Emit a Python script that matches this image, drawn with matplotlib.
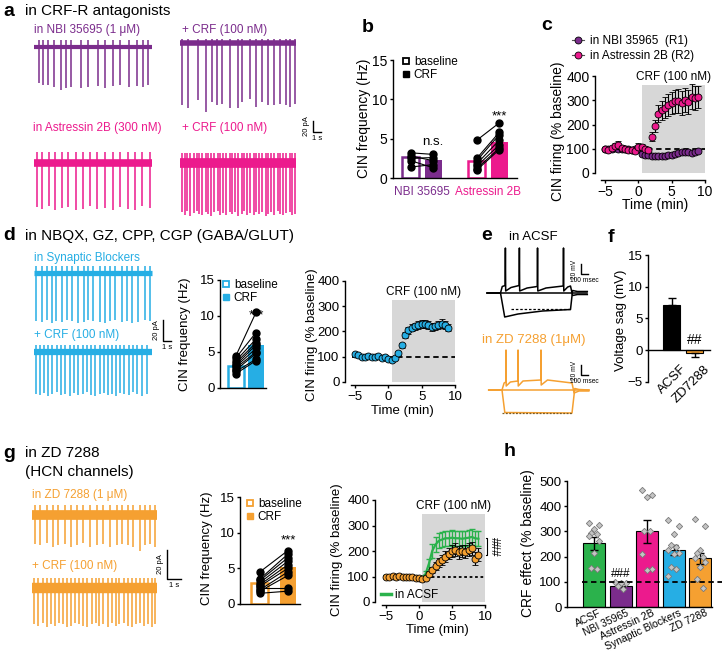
import matplotlib.pyplot as plt
from matplotlib.lines import Line2D
from matplotlib.transforms import ScaledTranslation

plt.rcParams['font.family'] = ['Liberation Sans', 'DejaVu Sans']
plt.rcParams['axes.linewidth'] = 1.0
plt.rcParams['xtick.major.width'] = 1.0
plt.rcParams['ytick.major.width'] = 1.0
plt.rcParams['xtick.major.size'] = 2.5
plt.rcParams['ytick.major.size'] = 2.5
plt.rcParams['xtick.major.pad'] = 1.5
plt.rcParams['ytick.major.pad'] = 1.5

W, H = 722, 652
PURPLE = '#7b2c8c'
PINK = '#ec1a8d'
BLUE = '#26aee4'
ORANGE = '#f5a031'
GREEN = '#2bb24c'
SHADE = '#d7d7d7'

# ---------------- data ----------------
# a: cell-attached traces, spike times (s) and amplitudes (pA)
a_nbi_base_t = [0.6, 1.1, 1.8, 2.5, 3.4, 4.0, 4.6, 5.9, 6.8, 8.0, 8.9, 9.9, 10.8, 11.9, 12.9, 13.6, 14.2]
a_nbi_base_amp = [66, 69, 69, 72, 78, 75, 73, 75, 73, 71, 74, 71, 69, 73, 70, 73, 69]
a_nbi_crf_t = [0.3, 1.0, 2.3, 3.3, 4.0, 4.6, 5.3, 6.3, 7.2, 7.8, 8.8, 9.5, 10.2, 11.0, 11.8, 12.5, 13.3, 13.8, 14.4]
a_nbi_crf_amp = [113, 119, 104, 125, 107, 113, 110, 119, 119, 107, 101, 116, 107, 113, 113, 110, 113, 116, 110]
a_ast_base_t = [0.4, 1.0, 1.9, 2.6, 3.5, 4.3, 5.3, 6.1, 7.0, 7.9, 8.9, 9.9, 10.8, 11.8, 12.6, 13.5, 14.5]
a_ast_base_amp = [80, 84, 78, 86, 82, 80, 85, 83, 79, 84, 81, 86, 80, 83, 85, 79, 82]
a_ast_crf_t = [0.2, 0.6, 0.9, 1.3, 1.7, 2.1, 2.4, 2.8, 3.2, 3.5, 3.9, 4.3, 4.7, 5.0, 5.4, 5.8, 6.2,
               6.5, 6.9, 7.3, 7.7, 8.0, 8.4, 8.8, 9.2, 9.5, 9.9, 10.3, 10.7, 11.0, 11.4, 11.8,
               12.2, 12.5, 12.9, 13.3, 13.7, 14.0, 14.4]
a_ast_crf_amp = [90, 94, 88, 96, 91, 87, 93, 95, 89, 92, 96, 90, 88, 94, 91, 95, 89, 93, 90,
                 96, 92, 88, 94, 91, 95, 90, 93, 89, 96, 92, 90, 94, 88, 93, 95, 91, 89, 94, 92]

# b: CIN frequency (Hz)
b_groups = ['NBI 35695', 'Astressin 2B']
b_base_mean = [2.7, 2.2]
b_crf_mean = [2.3, 4.6]
b_nbi_base = [3.2, 2.8, 2.5, 2.2, 1.4]
b_nbi_crf = [3.0, 2.2, 2.6, 1.3, 1.7]
b_ast_base = [4.8, 2.5, 2.2, 1.8, 1.5, 1.2, 1.0]
b_ast_crf = [7.0, 5.8, 5.5, 4.8, 4.2, 3.8, 3.6]

# time courses (% baseline)
minutes = [-5, -4.5, -4, -3.5, -3, -2.5, -2, -1.5, -1, -0.5, 0, 0.5, 1, 1.5, 2, 2.5, 3,
           3.5, 4, 4.5, 5, 5.5, 6, 6.5, 7, 7.5, 8, 8.5, 9]
c_nbi = [100, 98, 100, 102, 100, 98, 97, 100, 95, 98, 100, 80, 76, 74, 72, 70, 70, 70, 72,
         74, 76, 80, 84, 86, 88, 86, 84, 85, 90]
c_nbi_err = [5, 5, 5, 5, 5, 5, 5, 5, 5, 5, 6, 6, 6, 6, 6, 6, 6, 6, 6, 6, 6, 6, 6, 6, 6, 6, 6, 6, 6]
c_ast = [100, 96, 102, 112, 116, 104, 100, 95, 93, 92, 108, 106, 100, 96, 150, 195, 245, 258,
         270, 280, 288, 295, 298, 290, 300, 292, 315, 308, 312]
c_ast_err = [8, 8, 8, 12, 15, 10, 8, 8, 8, 8, 15, 12, 10, 10, 20, 25, 35, 40, 45, 45, 45, 48,
             50, 50, 50, 50, 50, 50, 45]

# d
d_base_t = [0.3, 0.95, 1.6, 2.2, 2.8, 3.5, 4.1, 4.7, 5.5, 6.2, 6.8, 7.4, 8.2, 8.9, 9.5, 10.1,
            11.0, 11.6, 12.3, 13.0, 13.9, 14.5]
d_base_amp = [46, 47, 45, 48, 46, 47, 45, 46, 48, 47, 45, 46, 47, 48, 46, 45, 47, 46, 48, 47, 45, 46]
d_crf_t = [0.2, 0.75, 1.3, 1.8, 2.3, 2.9, 3.4, 3.9, 4.5, 5.0, 5.5, 6.1, 6.6, 7.1, 7.6, 8.2, 8.7,
           9.2, 9.7, 10.3, 10.8, 11.3, 11.9, 12.4, 12.9, 13.5, 14.1]
d_crf_amp = [40, 41, 39, 42, 40, 38, 41, 40, 42, 39, 41, 40, 38, 41, 42, 40, 39, 41, 40, 42, 39,
             40, 41, 38, 40, 42, 40]
d_base_mean = 3.0
d_crf_mean = 6.0
d_base = [4.5, 4.2, 3.8, 3.5, 3.2, 3.0, 2.8, 2.5, 2.3, 2.0]
d_crf = [10.5, 7.7, 6.8, 6.3, 6.0, 5.5, 5.0, 4.8, 4.0, 3.8]
d_tc = [110, 105, 100, 100, 102, 100, 98, 102, 95, 100, 92, 88, 97, 115, 145, 185, 205, 215,
        220, 225, 228, 230, 225, 218, 220, 225, 230, 225, 215]
d_tc_err = [6, 5, 5, 5, 5, 5, 5, 5, 5, 5, 5, 5, 6, 8, 10, 12, 14, 15, 15, 16, 16, 16, 16, 15,
            15, 16, 18, 16, 15]

# e: current-clamp sweeps, time (ms) and membrane potential relative to rest (mV)
acsf_dep_t = [-190, 0, 25, 66, 70, 74, 150, 266, 270, 274, 380, 525, 529, 533, 650, 896, 900,
              904, 960, 1000, 1030, 1100, 1240]
acsf_dep_v = [0, 0, 13, 15, 90, 4, 11, 15, 90, 4, 10, 13, 90, 4, 10, 14, 90, 4, 12, 14, -5, -3, -3]
acsf_hyp_t = [-190, 0, 60, 250, 600, 1000, 1030, 1100, 1240]
acsf_hyp_v = [0, 0, -48, -42, -36, -33, 5, 3, 3]
acsf_ss = -32
zd_dep_t = [-190, 0, 30, 55, 57, 60, 120, 227, 229, 232, 300, 555, 557, 560, 650, 1000, 1030, 1100, 1240]
zd_dep_v = [0, 0, 14, 16, 80, 8, 16, 18, 80, 8, 18, 20, 80, 10, 20, 14, -6, -2, -2]
zd_hyp_t = [-190, 0, 40, 1000, 1040, 1100, 1240]
zd_hyp_v = [0, 0, -45, -46, 3, 1, 0]
zd_ss = -46

# f: voltage sag (mV)
f_groups = ['ACSF', 'ZD7288']
f_mean = [7.2, -0.5]
f_err = [1.1, 0.6]

# g
g_base_t = [0.2, 0.6, 1.05, 1.48, 1.88, 2.36, 2.79, 3.19, 3.66, 4.14, 4.62, 5.09, 5.57, 6.05,
            6.41, 6.88, 7.24, 7.71, 8.07, 8.43, 8.79]
g_base_amp = [20, 21, 19, 22, 21, 20, 22, 21, 19, 22, 21, 20, 22, 21, 20, 21, 22, 25, 21, 20, 22]
g_crf_t = [0.15, 0.45, 0.75, 1.05, 1.35, 1.65, 1.9, 2.2, 2.5, 2.8, 3.1, 3.35, 3.65, 3.95, 4.25,
           4.55, 4.8, 5.1, 5.4, 5.7, 6.0, 6.25, 6.55, 6.85, 7.15, 7.45, 7.7, 8.0, 8.3, 8.55, 8.8]
g_crf_amp = [25, 26, 24, 27, 25, 26, 24, 25, 27, 26, 24, 25, 26, 27, 25, 24, 26, 25, 27, 24, 26,
             25, 24, 26, 27, 25, 24, 26, 25, 27, 25]
g_base_mean = 2.9
g_crf_mean = 5.2
g_base = [4.5, 3.5, 3.3, 3.0, 2.7, 2.5, 2.0, 1.8, 2.2, 1.5]
g_crf = [7.5, 7.0, 6.5, 6.0, 5.5, 5.0, 4.5, 4.0, 2.2, 1.8]
g_acsf = [100, 98, 102, 100, 101, 99, 98, 100, 97, 96, 95, 98, 110, 150, 200, 225, 240, 245,
          250, 250, 252, 250, 250, 248, 250, 252, 255, 250, 248]
g_acsf_err = [4, 4, 4, 4, 4, 4, 4, 4, 4, 4, 4, 5, 10, 20, 28, 30, 30, 30, 30, 30, 30, 30, 30,
              30, 30, 30, 30, 30, 30]
g_zd = [100, 100, 102, 100, 103, 100, 98, 100, 97, 95, 93, 92, 95, 110, 125, 140, 155, 165,
        178, 190, 200, 205, 195, 200, 198, 205, 210, 170, 185]
g_zd_err = [5, 5, 5, 5, 5, 5, 5, 5, 5, 5, 5, 5, 6, 10, 12, 15, 18, 20, 22, 22, 25, 25, 25, 25,
            25, 25, 25, 25, 25]

# h: CRF effect (% baseline)
h_groups = ['ACSF', 'NBI 35965', 'Astressin 2B', 'Synaptic Blockers', 'ZD 7288']
h_colors = [GREEN, PURPLE, PINK, BLUE, ORANGE]
h_mean = [252, 85, 300, 225, 193]
h_err = [25, 6, 47, 20, 22]
h_points = [
    [335, 325, 310, 295, 290, 280, 260, 215, 155, 150],
    [100, 95, 95, 85, 70],
    [465, 445, 435, 300, 300, 210, 150, 145],
    [345, 320, 290, 245, 240, 225, 215, 210, 160, 150, 125],
    [350, 320, 225, 215, 200, 195, 180, 160, 110, 75],
]

# ---------------- helpers ----------------
fig = plt.figure(figsize=(W / 100, H / 100), dpi=100)


def box(l, t, r, b):
    return [l / W, 1 - b / H, (r - l) / W, (b - t) / H]


def label(x, y, s, size=10, **kw):
    fig.text(x / W, 1 - y / H, s, fontsize=size, va='center', **kw)


def letter(x, y, s):
    label(x, y, s, size=14, fontweight='bold')


def trace_ax(l, base, pps, ppa, w, up=20, down=75, t0=0):
    ax = fig.add_axes(box(l, base - up, l + w, base + down))
    ax.set_xlim(t0, t0 + w / pps)
    ax.set_ylim(-down / ppa, up / ppa)
    ax.axis('off')
    return ax


def spikes(ax, dur, times, amps, up, color, band):
    ax.plot([0, dur], [0, 0], color=color, lw=band, solid_capstyle='butt')
    ax.vlines(times, [-a for a in amps], up, color=color, lw=1.1)


def scalebar(cx, cy, sx, sy, pps, ppa, xl, yl, fs=5.5):
    ax = fig.add_axes(box(cx - 2, cy - sy * ppa - 2, cx + sx * pps + 2, cy + 2))
    ax.set_xlim(-2 / pps, sx + 2 / pps)
    ax.set_ylim(-2 / ppa, sy + 2 / ppa)
    ax.axis('off')
    ax.plot([0, 0, sx], [sy, 0, 0], color='k', lw=1, clip_on=False)
    ax.text(-3 / pps, sy / 2, yl, rotation=90, ha='right', va='center', fontsize=fs)
    ax.text(sx / 2, -3 / ppa, xl, ha='center', va='top', fontsize=fs)


def style(ax, left_out=0, bottom_out=0):
    for s in ('top', 'right'):
        ax.spines[s].set_visible(False)
    ax.spines['left'].set_position(('outward', left_out))
    ax.spines['bottom'].set_position(('outward', bottom_out))


def paired(ax, x, bmean, cmean, bvals, cvals, color, off, width):
    ax.bar(x - off, bmean, width, facecolor='white', edgecolor=color, lw=1.8, zorder=1)
    ax.bar(x + off, cmean, width, color=color, zorder=1)
    for b, c in zip(bvals, cvals):
        ax.plot([x - off, x + off], [b, c], color='k', lw=0.8, zorder=2)
    ax.plot([x - off] * len(bvals), bvals, 'o', color='k', ms=5, zorder=3)
    ax.plot([x + off] * len(cvals), cvals, 'o', color='k', ms=5, zorder=3)


def bar_legend(ax, color, x, y, fs=8.5):
    hs = [Line2D([], [], marker='s', ls='', mfc='white', mec=color, mew=1.3, ms=5),
          Line2D([], [], marker='s', ls='', mfc=color, mec=color, ms=5)]
    ax.legend(hs, ['baseline', 'CRF'], loc='upper left', bbox_to_anchor=(x / W, 1 - y / H),
              bbox_transform=fig.transFigure, frameon=False, fontsize=fs, handlelength=0.7,
              handletextpad=0.3, labelspacing=0.1, borderpad=0, borderaxespad=0)


def timecourse(ax, left_out, bottom_out, shade_top, fs=9.5):
    style(ax, left_out, bottom_out)
    ax.set_xlim(-6, 10)
    ax.set_ylim(0, 400)
    ax.set_xticks([-5, 0, 5, 10])
    ax.set_yticks([0, 100, 200, 300, 400])
    ax.spines['bottom'].set_bounds(-5.6, 10)
    ax.tick_params(labelsize=fs)
    ax.fill_between([0.5, 10], 0, shade_top, color=SHADE, lw=0, zorder=0)
    ax.text(5.25, shade_top + 8, 'CRF (100 nM)', ha='center', va='bottom', fontsize=8.5)
    ax.axhline(100, xmin=0.03, color='k', ls='--', lw=1.3, dashes=(3, 2), zorder=1)


# ---------------- panel a ----------------
letter(3, 11, 'a')
label(25, 11, 'in CRF-R antagonists', size=11)
label(34, 30, 'in NBI 35695 (1 \u03bcM)', size=8.5, color=PURPLE)
label(182, 30, '+ CRF (100 nM)', size=8.5, color=PURPLE)
label(33, 128, 'in Astressin 2B (300 nM)', size=8.5, color=PINK)
label(182, 128, '+ CRF (100 nM)', size=8.5, color=PINK)
a_pps, a_ppa = 8, 0.55
ax = trace_ax(34, 47, a_pps, a_ppa, 122, up=12, down=50)
spikes(ax, 14.7, a_nbi_base_t, a_nbi_base_amp, 13, PURPLE, 3.0)
ax = trace_ax(180, 43, a_pps, a_ppa, 122, up=12, down=72)
spikes(ax, 14.5, a_nbi_crf_t, a_nbi_crf_amp, 8, PURPLE, 4.0)
ax = trace_ax(34, 163, a_pps, a_ppa, 122, up=14, down=55)
spikes(ax, 14.7, a_ast_base_t, a_ast_base_amp, 20, PINK, 5.5)
ax = trace_ax(180, 163, a_pps, a_ppa, 122, up=14, down=58)
spikes(ax, 14.5, a_ast_crf_t, a_ast_crf_amp, 18, PINK, 7.0)
scalebar(313, 132, 1, 20, a_pps, a_ppa, '1 s', '20 pA')

# ---------------- panel b ----------------
letter(362, 27, 'b')
ax = fig.add_axes(box(393, 60, 517, 178))
style(ax)
ax.set_xlim(-0.44, 1.44)
ax.set_ylim(0, 15)
ax.set_yticks([0, 5, 10, 15])
ax.tick_params(labelsize=10)
paired(ax, 0, b_base_mean[0], b_crf_mean[0], b_nbi_base, b_nbi_crf, PURPLE, 0.17, 0.26)
paired(ax, 1, b_base_mean[1], b_crf_mean[1], b_ast_base, b_ast_crf, PINK, 0.17, 0.26)
ax.set_xticks([0, 1], b_groups)
ax.tick_params(axis='x', length=0, pad=6, labelsize=8.5)
for lab, c in zip(ax.get_xticklabels(), [PURPLE, PINK]):
    lab.set_color(c)
ax.text(0.17, 3.8, 'n.s.', ha='center', va='bottom', fontsize=9.5)
ax.text(1.17, 7.1, '***', ha='center', va='bottom', fontsize=9.5)
bar_legend(ax, 'k', 402, 56)
label(364, 118, 'CIN frequency (Hz)', size=10, rotation=90, ha='center')

# ---------------- panel c ----------------
letter(541, 25, 'c')
ax = fig.add_axes(box(598.3, 76, 705, 173))
timecourse(ax, 2.4, 5, 363, fs=10)
ax.errorbar(minutes, c_nbi, yerr=c_nbi_err, fmt='o', color=PURPLE, mec='k', mew=0.6, ms=5,
            ecolor='k', elinewidth=0.8, capsize=2, zorder=3)
ax.errorbar(minutes, c_ast, yerr=c_ast_err, fmt='o', color=PINK, mec='k', mew=0.6, ms=5,
            ecolor='k', elinewidth=0.8, capsize=2, zorder=4)
hs = [Line2D([], [], marker='o', color='#555555', lw=0.8, mfc=PURPLE, mec='k', mew=0.6, ms=5),
      Line2D([], [], marker='o', color='#555555', lw=0.8, mfc=PINK, mec='k', mew=0.6, ms=5)]
fig.legend(hs, ['in NBI 35965  (R1)', 'in Astressin 2B (R2)'], loc='upper left',
           bbox_to_anchor=(572 / W, 1 - 35 / H), frameon=False, fontsize=8.5, handlelength=1.0,
           handletextpad=0.5, labelspacing=0.25, borderpad=0, borderaxespad=0)
label(558, 131, 'CIN firing (% baseline)', size=10, rotation=90, ha='center')
label(655, 205, 'Time (min)', size=10, ha='center')

# ---------------- panel d ----------------
letter(3, 236, 'd')
label(25, 236, 'in NBQX, GZ, CPP, CGP (GABA/GLUT)', size=11)
label(34, 258, 'in Synaptic Blockers', size=8.5, color=BLUE)
label(34, 335, '+ CRF (100 nM)', size=8.5, color=BLUE)
d_pps, d_ppa = 8, 1.05
ax = trace_ax(34, 273, d_pps, d_ppa, 125, up=12, down=55)
spikes(ax, 14.75, d_base_t, d_base_amp, 7, BLUE, 3.8)
ax = trace_ax(34, 352, d_pps, d_ppa, 125, up=12, down=50)
spikes(ax, 14.75, d_crf_t, d_crf_amp, 7, BLUE, 4.5)
scalebar(163, 341, 1, 20, d_pps, d_ppa, '1 s', '20 pA')

ax = fig.add_axes(box(220, 280, 266, 388))
style(ax)
ax.set_xlim(-0.8, 1.5)
ax.set_ylim(0, 15)
ax.set_yticks([0, 5, 10, 15])
ax.set_xticks([])
ax.tick_params(labelsize=9.5)
paired(ax, 0.5, d_base_mean, d_crf_mean, d_base, d_crf, BLUE, 0.5, 0.8)
ax.text(1.0, 9.2, '***', ha='center', va='bottom', fontsize=9.5)
bar_legend(ax, BLUE, 222, 279)
label(185, 334, 'CIN frequency (Hz)', size=9.5, rotation=90, ha='center')

ax = fig.add_axes(box(348.3, 281, 455, 382))
timecourse(ax, 2.4, 2.5, 324)
ax.errorbar(minutes, d_tc, yerr=d_tc_err, fmt='o', color=BLUE, mec='k', mew=0.6, ms=5,
            ecolor='k', elinewidth=0.8, capsize=2, zorder=3)
label(312, 335, 'CIN firing (% baseline)', size=9.5, rotation=90, ha='center')
label(402, 411, 'Time (min)', size=9.5, ha='center')

# ---------------- panel e ----------------
letter(481, 236, 'e')
label(533, 237, 'in ACSF', size=9.5, ha='center')
e_pps, e_ppa = 0.07, 0.5
ax = trace_ax(483, 293, e_pps, e_ppa, 110, up=60, down=32, t0=-250)
ax.plot([-190, 1240], [0, 0], color='k', lw=1.1)
ax.plot(acsf_dep_t, acsf_dep_v, color='k', lw=1.1)
ax.plot(acsf_hyp_t, acsf_hyp_v, color='k', lw=1.1)
ax.plot([150, 1000], [acsf_ss, acsf_ss], color='k', lw=0.9, ls=(0, (2, 1.5)))
scalebar(581, 274, 100, 20, e_pps, e_ppa, '100 msec', '20 mV', fs=4.8)

label(482, 340, 'in ZD 7288 (1\u03bcM)', size=9.5, color=ORANGE)
ax = trace_ax(484.5, 390, e_pps, e_ppa, 110, up=45, down=30, t0=-250)
ax.plot([-190, 1240], [0, 0], color=ORANGE, lw=1.1)
ax.plot(zd_dep_t, zd_dep_v, color=ORANGE, lw=1.1)
ax.plot(zd_hyp_t, zd_hyp_v, color=ORANGE, lw=1.1)
ax.plot([0, 1000], [zd_ss, zd_ss], color='#7a5a20', lw=0.9, ls=(0, (1.5, 1.2)))
scalebar(581, 375, 100, 20, e_pps, e_ppa, '100 msec', '20 mV', fs=4.8)

# ---------------- panel f ----------------
letter(608, 237, 'f')
ax = fig.add_axes(box(648, 255, 710, 382))
for s in ('top', 'right'):
    ax.spines[s].set_visible(False)
ax.spines['bottom'].set_position(('data', 0))
ax.set_xlim(-1.02, 1.67)
ax.set_ylim(-5, 15)
ax.set_yticks([-5, 0, 5, 10, 15])
ax.set_xticks([])
ax.tick_params(labelsize=9.5)
ax.bar([0, 1], f_mean, 0.74, color=['k', ORANGE], edgecolor='k', lw=0.8, zorder=2)
ax.errorbar([0, 1], f_mean, yerr=[[0, f_err[1]], [f_err[0], 0]], fmt='none', ecolor='k',
            elinewidth=1, capsize=3, zorder=3)
ax.text(1, 0.5, '##', ha='center', va='bottom', fontsize=10)
for i, g in enumerate(f_groups):
    ax.text(i + 0.4, -2.0, g, rotation=45, ha='right', va='top', rotation_mode='anchor',
            fontsize=9.5)
label(621, 320, 'Voltage sag (mV)', size=9.5, rotation=90, ha='center')

# ---------------- panel g ----------------
letter(3, 454, 'g')
label(25, 453, 'in ZD 7288', size=11)
label(25, 472, '(HCN channels)', size=11)
label(32, 495, 'in ZD 7288 (1 \u03bcM)', size=8.5, color=ORANGE)
label(32, 566, '+ CRF (100 nM)', size=8.5, color=ORANGE)
g_pps, g_ppa = 14, 1.45
ax = trace_ax(32, 515, g_pps, g_ppa, 130, up=14, down=42)
spikes(ax, 8.9, g_base_t, g_base_amp, 7, ORANGE, 7.0)
ax = trace_ax(32, 588, g_pps, g_ppa, 130, up=14, down=42)
spikes(ax, 8.9, g_crf_t, g_crf_amp, 7, ORANGE, 7.5)
scalebar(167, 579, 1, 20, g_pps, g_ppa, '1 s', '20 pA')

ax = fig.add_axes(box(240, 497, 300, 604))
style(ax)
ax.set_xlim(-0.71, 1.43)
ax.set_ylim(0, 15)
ax.set_yticks([0, 5, 10, 15])
ax.set_xticks([])
ax.tick_params(labelsize=9.5)
paired(ax, 0.5, g_base_mean, g_crf_mean, g_base, g_crf, ORANGE, 0.5, 0.6)
ax.text(1.0, 8.0, '***', ha='center', va='bottom', fontsize=9.5)
bar_legend(ax, ORANGE, 246, 498)
label(207, 548, 'CIN frequency (Hz)', size=9.5, rotation=90, ha='center')

ax = fig.add_axes(box(379.4, 500, 485, 602))
timecourse(ax, 3.2, 2.5, 345)
ax.lines[-1].set_linestyle((0, (1.5, 1.5)))
ax.errorbar(minutes, g_acsf, yerr=g_acsf_err, color=GREEN, lw=1.6, ecolor=GREEN,
            elinewidth=1, capsize=2, zorder=3)
ax.errorbar(minutes, g_zd, yerr=g_zd_err, fmt='o', color=ORANGE, mec='k', mew=0.6, ms=5,
            ecolor='k', elinewidth=0.8, capsize=2, zorder=4)
ax.plot([10.1, 10.3, 10.3, 10.1], [252, 252, 185, 185], color='k', lw=0.8, clip_on=False)
ax.text(11.4, 218, '###', rotation=270, ha='center', va='center', fontsize=8.5)
ax.legend([Line2D([], [], color=GREEN, lw=2.5)], ['in ACSF'], loc='lower left',
          bbox_to_anchor=(0.0, 0.0), frameon=False, fontsize=8.5, handlelength=0.9,
          handletextpad=0.3, borderpad=0, borderaxespad=0.1)
label(337, 550, 'CIN firing (% baseline)', size=9.5, rotation=90, ha='center')
label(437, 630, 'Time (min)', size=9.5, ha='center')

# ---------------- panel h ----------------
letter(504, 452, 'h')
ax = fig.add_axes(box(567, 481, 712, 607))
style(ax)
ax.set_xlim(-1.02, 4.45)
ax.set_ylim(0, 500)
ax.set_yticks([0, 100, 200, 300, 400, 500])
ax.tick_params(labelsize=9.5)
xs = list(range(len(h_groups)))
ax.bar(xs, h_mean, 0.83, color=h_colors, edgecolor='k', lw=0.8, zorder=1)
ax.errorbar(xs, h_mean, yerr=h_err, fmt='none', ecolor='k', elinewidth=1, capsize=3, zorder=2)
jitter = [-0.2, 0.2, 0.0, -0.1, 0.1]
for i, pts in enumerate(h_points):
    ax.plot([i + jitter[k % 5] for k in range(len(pts))], pts, 'D', ms=3.2, mfc='#c4c4c4',
            mec='#7a7a7a', mew=0.6, zorder=3)
ax.plot([-0.45, 4.95], [100, 100], color='k', ls='--', lw=1.3, dashes=(3, 2), clip_on=False,
        zorder=4)
ax.text(1, 107, '###', ha='center', va='bottom', fontsize=8.5)
ax.set_xticks(xs, h_groups, rotation=25, ha='right', rotation_mode='anchor', fontsize=7.5)
ax.tick_params(axis='x', length=0, pad=0.5)
shift = ScaledTranslation(5 / 100, 0, fig.dpi_scale_trans)
for lab in ax.get_xticklabels():
    lab.set_transform(lab.get_transform() + shift)
label(528, 543, 'CRF effect (% baseline)', size=10, rotation=90, ha='center')

fig.savefig('out.png', dpi=100)
